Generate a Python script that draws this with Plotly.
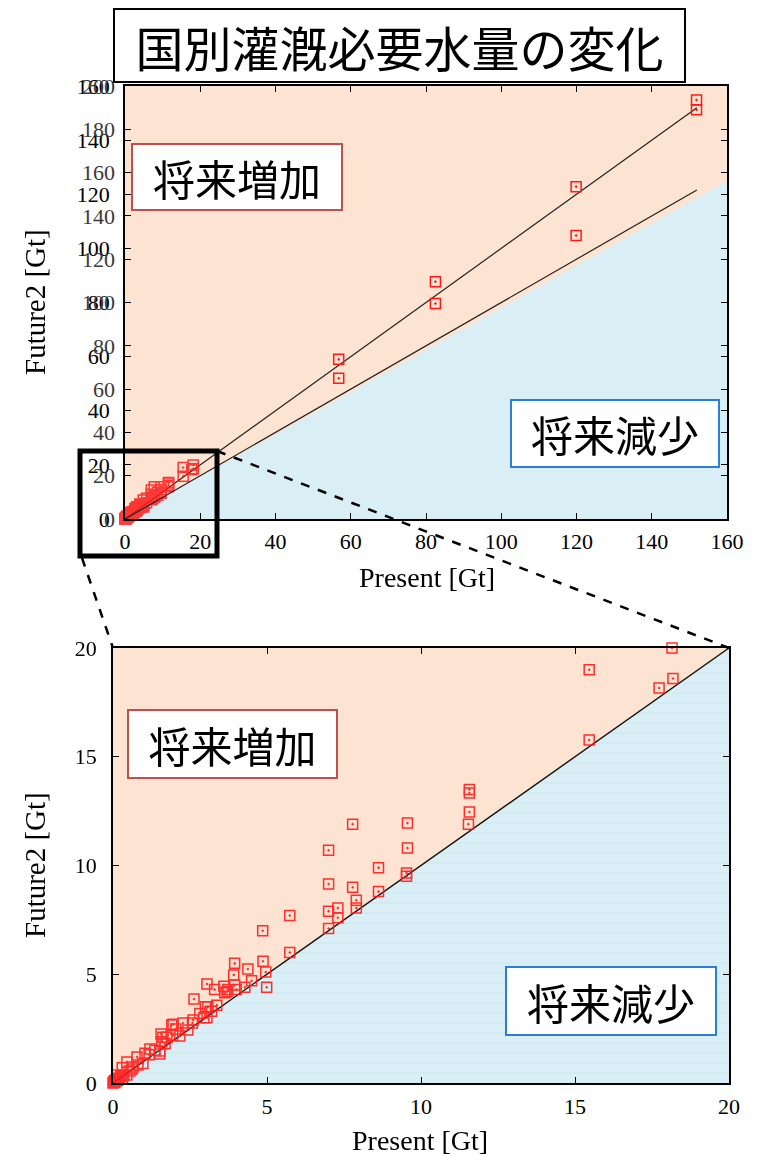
import plotly.graph_objects as go

# ---------------- data ----------------
present_small = [0.00, 0.02, 0.04, 0.05, 0.08, 0.10, 0.12, 0.15, 0.18, 0.20, 0.25, 0.30, 0.30, 0.35,
                 0.45, 0.45, 0.55, 0.62, 0.65, 0.78, 0.81, 0.97, 1.04, 1.17, 1.20, 1.36, 1.52, 1.52,
                 1.56, 1.58, 1.62, 1.69, 1.75, 1.91, 1.94, 1.95, 2.04, 2.17, 2.27, 2.43, 2.58, 2.60,
                 2.63, 2.82, 2.95, 3.05, 3.00, 3.05, 3.08, 3.20, 3.30, 3.37, 3.60, 3.63, 3.70, 3.73,
                 3.92, 3.95, 3.95, 4.00, 4.28, 4.38, 4.50, 4.86, 4.87, 4.96, 4.99, 5.74, 5.74, 7.00,
                 7.00, 7.00, 7.00, 7.30, 7.30, 7.78, 7.78, 7.90, 7.90, 8.62, 8.62, 9.53, 9.53, 9.56,
                 9.56, 11.54, 11.57, 11.57, 11.57, 15.46, 15.46, 17.73, 18.15, 18.18]
future2_small = [0.00, 0.05, 0.02, 0.10, 0.06, 0.15, 0.37, 0.12, 0.22, 0.20, 0.30, 0.20, 0.70, 0.35,
                 0.37, 0.97, 0.55, 0.64, 0.74, 1.20, 0.83, 0.90, 1.37, 1.30, 1.56, 1.50, 1.33, 1.47,
                 2.25, 1.90, 2.10, 1.80, 2.10, 2.67, 2.20, 2.70, 2.48, 2.16, 2.76, 2.44, 2.76, 2.90,
                 3.86, 3.20, 3.00, 3.00, 3.50, 4.55, 3.50, 3.30, 4.30, 3.58, 4.45, 4.15, 4.20, 4.30,
                 4.97, 5.50, 4.50, 4.30, 4.40, 5.24, 4.70, 7.00, 5.60, 5.10, 4.40, 7.70, 6.00, 10.70,
                 9.15, 7.90, 7.10, 8.05, 7.60, 11.90, 9.00, 8.40, 8.05, 9.90, 8.80, 9.65, 9.50, 11.95,
                 10.80, 11.90, 13.50, 13.33, 12.46, 19.00, 15.77, 18.16, 20.00, 18.60]

present_large = [56.8, 82.5, 119.9, 151.9]
future2_large_a = [59.0, 87.7, 122.8, 154.8]    # on the 0-160 axis
future2_large_b = [65.0, 99.5, 131.0, 189.0]    # on the 0-200 axis

ref_line_x = [0, 152]
shade_top_a = 125          # decrease-region edge at x=160 (0-160 axis units)

x_ticks_top = [0, 20, 40, 60, 80, 100, 120, 140, 160]
y_ticks_a = [0, 20, 40, 60, 80, 100, 120, 140, 160]
y_ticks_b = [0, 20, 40, 60, 80, 100, 120, 140, 160, 180, 200]
ticks_bottom = [0, 5, 10, 15, 20]

title_text = "国別灌漑必要水量の変化"
label_up = "将来増加"
label_down = "将来減少"
x_title = "Present [Gt]"
y_title = "Future2 [Gt]"

# ---------------- styling ----------------
W, H = 760, 1154
ORANGE = "#fde3d1"
BLUE = "#d9eef5"
RED = "#ff1a1a"
SERIF = "Liberation Serif, Times New Roman, serif"
CJK = "Noto Sans CJK JP, sans-serif"


def px(xp):
    return xp / W


def py(yp):
    return 1 - yp / H


marker = dict(symbol="square-open-dot", size=10, color=RED, line=dict(width=1.5, color=RED))

fig = go.Figure()

# top chart: decrease region
fig.add_trace(go.Scatter(x=[0, x_ticks_top[-1], x_ticks_top[-1], 0], y=[0, 0, shade_top_a, 0],
                         xaxis="x", yaxis="y", mode="lines", fill="toself", fillcolor=BLUE,
                         line=dict(width=0), hoverinfo="skip", showlegend=False))
# top chart: 1:1 line (0-160 axis)
fig.add_trace(go.Scatter(x=ref_line_x, y=ref_line_x, xaxis="x", yaxis="y", mode="lines",
                         line=dict(color="#222", width=1.2), showlegend=False))
fig.add_trace(go.Scatter(x=present_small, y=future2_small, xaxis="x", yaxis="y", mode="markers",
                         marker=marker, opacity=0.85, cliponaxis=False, showlegend=False))
fig.add_trace(go.Scatter(x=present_large, y=future2_large_a, xaxis="x", yaxis="y", mode="markers",
                         marker=marker, cliponaxis=False, showlegend=False))
# top chart: second scale
fig.add_trace(go.Scatter(x=ref_line_x, y=ref_line_x, xaxis="x", yaxis="y2", mode="lines",
                         line=dict(color="#222", width=1.2), showlegend=False))
fig.add_trace(go.Scatter(x=present_large, y=future2_large_b, xaxis="x", yaxis="y2", mode="markers",
                         marker=marker, cliponaxis=False, showlegend=False))

# bottom chart
fig.add_trace(go.Scatter(x=[0, ticks_bottom[-1], ticks_bottom[-1], 0], y=[0, 0, ticks_bottom[-1], 0],
                         xaxis="x2", yaxis="y3", mode="lines", fill="toself", fillcolor=BLUE,
                         fillpattern=dict(shape="-", bgcolor=BLUE, fgcolor="#c3e2ee", size=10, solidity=0.12),
                         line=dict(width=0), hoverinfo="skip", showlegend=False))
fig.add_trace(go.Scatter(x=[0, ticks_bottom[-1]], y=[0, ticks_bottom[-1]], xaxis="x2", yaxis="y3",
                         mode="lines", line=dict(color="#111", width=1.4), showlegend=False))
fig.add_trace(go.Scatter(x=present_small, y=future2_small, xaxis="x2", yaxis="y3", mode="markers",
                         marker=marker, opacity=0.9, cliponaxis=False, showlegend=False))

tickfont = dict(family=SERIF, size=22, color="black")
axis_common = dict(showgrid=False, zeroline=False, showline=True, linecolor="black",
                   ticks="inside", ticklen=6, tickcolor="black", tickfont=tickfont,
                   automargin=False)

top_x_dom = [px(125), px(727)]
top_y_dom = [py(519), py(86)]
bot_x_dom = [px(113), px(729)]
bot_y_dom = [py(1083), py(648)]

fig.update_layout(
    width=W, height=H, margin=dict(l=0, r=0, t=0, b=0, pad=0),
    paper_bgcolor="white", plot_bgcolor=ORANGE,
    xaxis=dict(domain=top_x_dom, range=[0, 160], tickvals=x_ticks_top, anchor="y",
               mirror="ticks", linewidth=2, ticklabelstandoff=2, **axis_common),
    yaxis=dict(domain=top_y_dom, range=[0, 160], tickvals=y_ticks_a, anchor="x",
               mirror="ticks", linewidth=1.5, ticklabelstandoff=9, **axis_common),
    yaxis2=dict(range=[0, 200], tickvals=y_ticks_b, overlaying="y", anchor="x", side="left",
                showgrid=False, zeroline=False, showline=False, ticks="inside", ticklen=6,
                tickcolor="black", mirror="ticks", ticklabelstandoff=9, automargin=False,
                tickfont=dict(family=SERIF, size=22, color="#3a3a3a")),
    xaxis2=dict(domain=bot_x_dom, range=[0, 20], tickvals=ticks_bottom, anchor="y3",
                mirror="ticks", linewidth=1.5, ticklabelstandoff=3, **axis_common),
    yaxis3=dict(domain=bot_y_dom, range=[0, 20], tickvals=ticks_bottom, anchor="x2",
                mirror="ticks", linewidth=1.5, ticklabelstandoff=10, **axis_common),
)

annotations = []


def box(text, xc, yc, w, h, border, size):
    annotations.append(dict(text=text, xref="paper", yref="paper", x=px(xc), y=py(yc),
                            xanchor="center", yanchor="middle", showarrow=False,
                            width=w, height=h, bgcolor="white", bordercolor=border,
                            borderwidth=2, borderpad=0,
                            font=dict(family=CJK, size=size, color="black")))


box(title_text, 399.5, 45.5, 569, 71, "black", 48)
box(label_up, 236.5, 177, 208, 64, "#c0504d", 42)
box(label_down, 615, 433.5, 206, 65, "#2a7de1", 42)
box(label_up, 232.5, 743.5, 207, 66, "#c0504d", 42)
box(label_down, 611, 1001, 208, 66, "#2a7de1", 42)

for (xc, yc) in [(427, 577), (420, 1140)]:
    annotations.append(dict(text=x_title, xref="paper", yref="paper", x=px(xc), y=py(yc),
                            xanchor="center", yanchor="middle", showarrow=False,
                            font=dict(family=SERIF, size=28, color="black")))
for (xc, yc) in [(35, 302), (35, 865)]:
    annotations.append(dict(text=y_title, xref="paper", yref="paper", x=px(xc), y=py(yc),
                            xanchor="center", yanchor="middle", showarrow=False, textangle=-90,
                            font=dict(family=SERIF, size=29, color="black")))
fig.update_layout(annotations=annotations)

shapes = [
    dict(type="rect", xref="paper", yref="paper", x0=px(80), x1=px(217), y0=py(556), y1=py(451),
         line=dict(color="black", width=5), layer="above"),
    dict(type="line", xref="paper", yref="paper", x0=px(217), y0=py(451), x1=px(729), y1=py(648),
         line=dict(color="black", width=2.5, dash="dash"), layer="above"),
    dict(type="line", xref="paper", yref="paper", x0=px(82), y0=py(558), x1=px(113), y1=py(648),
         line=dict(color="black", width=2.5, dash="dash"), layer="above"),
]
fig.update_layout(shapes=shapes)

fig.write_html("out.html", config={"displayModeBar": False},
               post_script="document.body.style.margin='0';document.body.style.padding='0';")
